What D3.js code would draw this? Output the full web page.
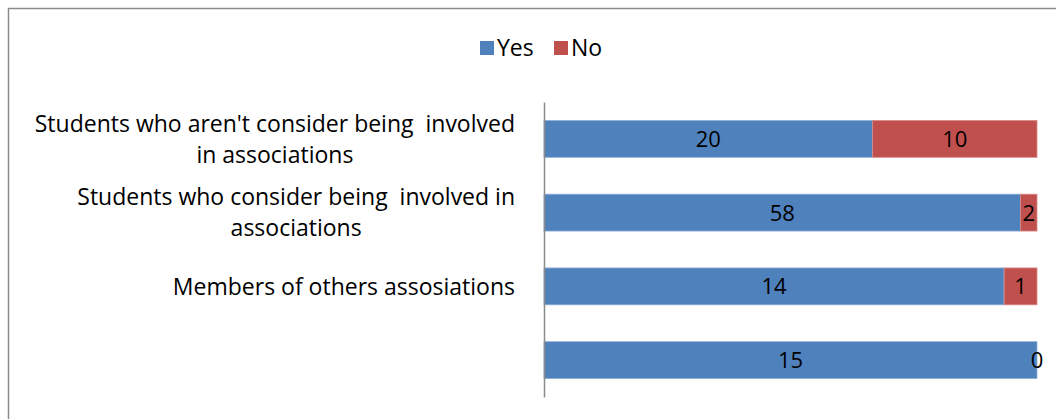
<!DOCTYPE html>
<html><head><meta charset="utf-8">
<script src="https://cdn.jsdelivr.net/npm/d3@7"></script>
<style>
html,body{margin:0;padding:0;background:#fff;}
svg{display:block;font-family:"Open Sans","Noto Sans",sans-serif;}
.lbl{white-space:pre;}
</style></head>
<body>
<svg id="c" width="1056" height="419"></svg>
<script>
const categories = ["Students who aren't consider being  involved in associations",
  "Students who consider being  involved in associations",
  "Members of others assosiations",
  ""];
const categoryLines = [
  ["Students who aren't consider being  involved", "in associations"],
  ["Students who consider being  involved in", "associations"],
  ["Members of others assosiations"],
  []
];
const seriesNames = ["Yes", "No"];
const yesValues = [20, 58, 14, 15];
const noValues = [10, 2, 1, 0];
const colors = ["#4F81BD", "#C0504D"];

const svg = d3.select("#c");
const W = 1056, H = 419;

// chart border
svg.append("rect").attr("x", 8.5).attr("y", 8.5).attr("width", W + 20).attr("height", H + 20)
  .attr("fill", "#fff").attr("stroke", "#8c8c8c").attr("stroke-width", 1.5);

const x = d3.scaleLinear().domain([0, 1]).range([544, 1037]);
const y = d3.scaleBand().domain(categories).range([102, 397]).paddingInner(0.5).paddingOuter(0.25);

const rows = categories.map((c, i) => ({cat: c, i, Yes: yesValues[i], No: noValues[i]}));
const stack = d3.stack().keys(seriesNames).offset(d3.stackOffsetExpand);
const layers = stack(rows);

const g = svg.append("g");
layers.forEach((layer, li) => {
  const lg = g.append("g");
  lg.selectAll("rect").data(layer).enter().append("rect")
    .attr("x", d => x(d[0]))
    .attr("y", d => y(d.data.cat))
    .attr("width", d => Math.max(0, x(d[1]) - x(d[0])))
    .attr("height", y.bandwidth())
    .attr("fill", colors[li])
    .attr("stroke", li === 0 ? "#8fb0d8" : "#d88a88")
    .attr("stroke-width", 0.8);
  lg.selectAll("text").data(layer).enter().append("text")
    .attr("x", d => (x(d[0]) + x(d[1])) / 2)
    .attr("y", d => y(d.data.cat) + y.bandwidth() / 2)
    .attr("dy", "0.36em")
    .attr("text-anchor", "middle")
    .attr("font-size", 22)
    .attr("fill", "#000")
    .text(d => d.data[seriesNames[li]]);
});

// axis
const axis = d3.axisLeft(y).tickSize(0).tickFormat("");
const ag = svg.append("g").attr("transform", "translate(544,0)").call(axis);
ag.select(".domain").attr("stroke", "#8c8c8c").attr("stroke-width", 1.5);

// category labels (wrapped, centered block right-aligned to axis)
const lineH = 31;
categories.forEach((c, i) => {
  const lines = categoryLines[i];
  if (!lines.length) return;
  const t = svg.append("text").attr("class", "lbl").attr("font-size", 23).attr("fill", "#000")
    .attr("text-anchor", "middle");
  const cy = y(c) + y.bandwidth() / 2;
  lines.forEach((ln, k) => {
    t.append("tspan").attr("x", 0)
      .attr("y", cy + (k - (lines.length - 1) / 2) * lineH)
      .attr("dy", "0.36em").text(ln);
  });
  const w = t.node().getBBox().width;
  const cx = 544 - 29 - w / 2;
  t.selectAll("tspan").attr("x", cx);
});

// legend
const lg = svg.append("g");
const legendItems = [{name: "Yes", x: 480, c: colors[0]}, {name: "No", x: 554, c: colors[1]}];
legendItems.forEach(it => {
  lg.append("rect").attr("x", it.x).attr("y", 41).attr("width", 14).attr("height", 14).attr("fill", it.c);
  lg.append("text").attr("x", it.x + 17).attr("y", 48).attr("dy", "0.36em")
    .attr("font-size", 23).attr("fill", "#000").text(it.name);
});
</script>
</body></html>
